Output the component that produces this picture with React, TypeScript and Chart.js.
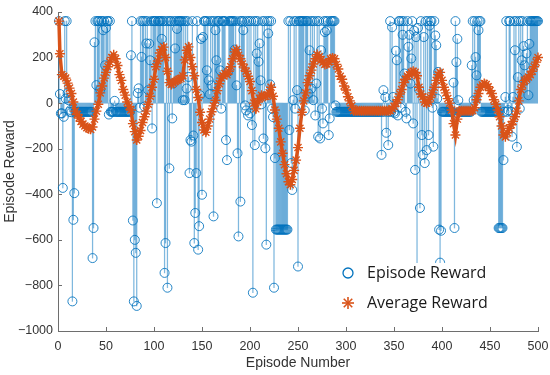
import React, { useEffect, useRef } from 'react';
import { Chart, registerables } from 'chart.js';

Chart.register(...registerables);

// Episode reward, episodes 1..100
const rewards001to100 = [
  360, 40, -45, -45, -372, -60, 360, 20, 360, 44,
  13, -38, -30, -40, -870, -512, -395, -38, -38, -38,
  -38, -38, -38, -38, -38, -38, -38, -38, -38, -38,
  -38, -38, -38, -38, -38, -680, -548, 267, 360, 79,
  360, 360, 360, 60, 360, 360, 320, 360, 166, 330,
  360, 360, -50, 360, -38, -38, -38, -38, 10, -38,
  -38, -38, -38, -38, -38, -38, -38, -38, -38, -38,
  -38, -38, -38, -38, -38, 210, 360, -515, -870, -600,
  -657, -890, 44, 65, -20, 360, 203, 360, 360, -15,
  360, 262, 360, 57, 261, 188, 360, -111, 360, 360,
];
// episodes 101..200
const rewards101to200 = [
  360, 360, -439, 360, 360, 360, 360, 282, 360, 360,
  -745, -614, 360, -810, 360, -286, 360, 360, -67, 86,
  360, 240, 360, 326, 360, 360, 360, 360, 360, 13,
  360, 13, 360, 64, 360, 115, -307, -162, -169, 360,
  -142, -614, -482, -307, 360, -643, -540, 35, 282, -402,
  290, 360, 360, 360, 144, 360, 100, 39, 360, 78,
  360, -497, 360, 320, 188, 360, 360, 360, 144, -24,
  360, 360, 360, 360, -162, -250, 137, 360, 360, 360,
  360, 360, 360, 235, 360, 78, -220, -585, 360, -432,
  360, 360, 320, 360, -10, -32, 360, -54, 360, -45,
];
// episodes 201..300
const rewards201to300 = [
  360, -96, -832, 360, -184, 360, 218, 360, 182, 262,
  100, -5, 360, -155, 360, -198, -621, 360, 306, 360,
  82, 360, -24, -61, -810, -241, -555, -555, -555, -555,
  -555, -555, -555, -555, -555, -555, -555, -555, -555, 360,
  -118, 360, -263, -381, 13, 360, -24, 360, 57, -717,
  360, 360, 360, 360, 360, 360, -32, 360, 360, 360,
  42, 232, 360, 64, 360, 13, 360, -54, 86, 360,
  -147, 360, -155, 232, -24, -89, 360, 312, 360, 319,
  360, -140, -67, 360, 360, 360, 360, 360, -10, -38,
  -38, -38, -38, -38, -38, -38, -38, -38, -38, -38,
];
// episodes 301..400
const rewards301to400 = [
  -38, -38, -38, -38, -38, -38, -38, -38, -38, -38,
  -38, -38, -38, -38, -38, -38, -38, -38, -38, -38,
  -38, -38, -38, -38, -38, -38, -38, -38, -38, -38,
  -38, -38, -38, -38, -38, -38, -227, -38, 57, -38,
  27, -130, -38, -184, -38, 360, -38, 333, 27, -38,
  -45, 230, 188, -54, 360, 360, -20, 360, 300, 360,
  130, -38, -67, 360, 247, 300, 86, 196, 360, -89,
  318, -293, 290, -760, 330, 60, -460, 360, -140, -227,
  290, -263, 360, -206, 360, -140, 340, 360, 360, -20,
  -191, 360, 297, 254, 20, 137, -555, -700, -560, -38,
];
// episodes 401..500
const rewards401to500 = [
  -38, -38, -38, -38, -38, -38, -38, -38, -38, -38,
  -38, 90, -548, 360, 180, 282, 13, -38, -38, -38,
  -38, -38, -38, -38, -38, -38, -38, -38, -38, -38,
  166, 360, 13, 360, 202, 122, 360, 320, 360, 360,
  -38, -38, -38, -38, -38, -38, -38, -38, -38, -38,
  -38, -38, -38, -38, -38, -38, -38, -38, -548, -548,
  -548, -548, -548, -250, -38, 27, 360, -38, -31, 360,
  360, -38, -147, 27, 360, 232, 360, -192, 114, 360,
  -24, 360, 188, 360, 250, 166, 100, 218, 360, 35,
  260, 360, 360, 360, 360, 360, 360, 360, 360, 360,
];

// Average reward, read every 2 episodes (0, 2, 4, ...)
const average000to098 = [
  360, 217, 125, 118, 110, 88, 66, 42, 5, -35,
  -50, -65, -80, -92, -100, -108, -112, -115, -105, -70,
  -35, -5, 45, 75, 110, 135, 160, 180, 200, 212,
  195, 165, 125, 100, 60, 35, 5, -15, -30, -90,
  -125, -162, -145, -120, -85, -60, -35, -5, 30, 70,
];
const average100to198 = [
  105, 160, 185, 220, 235, 246, 200, 140, 90, 82,
  88, 95, 100, 105, 108, 120, 190, 232, 247, 200,
  160, 120, 60, 25, -40, -85, -118, -128, -100, -70,
  -38, -12, 13, 55, 85, 110, 120, 130, 125, 140,
  160, 195, 225, 235, 210, 195, 172, 155, 140, 118,
];
const average200to298 = [
  95, 55, 0, -25, 5, 20, 35, 30, 30, 35,
  45, 70, 30, -30, -70, -110, -170, -220, -270, -310,
  -345, -358, -335, -295, -250, -195, -110, -40, 10, 45,
  90, 120, 145, 172, 195, 213, 205, 190, 178, 170,
  172, 180, 195, 198, 195, 170, 150, 118, 105, 75,
];
const average300to398 = [
  58, 28, 10, -12, -33,
  -33, -33, -33, -33, -33, -33, -33, -33, -33, -33,
  -33, -33, -33, -33, -33, -33, -33, -33, -33,
  -25, -15, 0, 15, 40, 60, 90, 105, 118, 125,
  135, 140, 135, 120, 70, 40, 28, 5, 0, 5,
  25, 45, 70, 100, 125, 135,
];
const average400to500 = [
  100, 70, 45, 20, 0, -30, -90, -140, -70, -35,
  -33, -33, -33, -33, -33, -33, -33,
  -20, 15, 42, 70, 80, 86, 82, 72, 55, 42,
  15, -5, -30, -60, -100, -140, -148, -130, -110, -95,
  -80, -60, -35, 10, 60, 80, 100, 105, 115, 125,
  140, 160, 180, 200,
];

const xTickValues = [0, 50, 100, 150, 200, 250, 300, 350, 400, 450, 500];
const yTickValues = [-1000, -800, -600, -400, -200, 0, 200, 400];
const legendLabels = ['Episode Reward', 'Average Reward'];
const xTitle = 'Episode Number';
const yTitle = 'Episode Reward';

const episodeRewards = [
  ...rewards001to100,
  ...rewards101to200,
  ...rewards201to300,
  ...rewards301to400,
  ...rewards401to500,
];
const averageReward = [
  ...average000to098,
  ...average100to198,
  ...average200to298,
  ...average300to398,
  ...average400to500,
];

const BLUE = '#0072BD';
const ORANGE = '#D95319';
const AXIS = '#6e6e6e';
const TEXT = '#333333';

const fmt = (v: number) => (v < 0 ? '\u2212' + Math.abs(v) : String(v));

const inwardTicks = {
  id: 'inwardTicks',
  afterDraw(chart: any) {
    const { ctx, chartArea, scales } = chart;
    ctx.save();
    ctx.strokeStyle = AXIS;
    ctx.lineWidth = 1;
    xTickValues.forEach((v) => {
      const px = Math.round(scales.x.getPixelForValue(v)) + 0.5;
      ctx.beginPath();
      ctx.moveTo(px, chartArea.bottom);
      ctx.lineTo(px, chartArea.bottom - 4);
      ctx.stroke();
    });
    yTickValues.forEach((v) => {
      const py = Math.round(scales.y.getPixelForValue(v)) + 0.5;
      ctx.beginPath();
      ctx.moveTo(chartArea.left, py);
      ctx.lineTo(chartArea.left + 4, py);
      ctx.stroke();
    });
    ctx.restore();
  },
};

const matlabLegend = {
  id: 'matlabLegend',
  afterDatasetsDraw(chart: any) {
    const { ctx, chartArea } = chart;
    const left = chartArea.left + 276;
    const top = chartArea.top + 251;
    ctx.save();
    ctx.fillStyle = '#ffffff';
    ctx.fillRect(left, top, 200, 58);
    const mx = left + 14;
    const y1 = top + 10;
    const y2 = top + 40;
    ctx.strokeStyle = BLUE;
    ctx.lineWidth = 1.3;
    ctx.beginPath();
    ctx.arc(mx, y1, 5, 0, Math.PI * 2);
    ctx.stroke();
    ctx.strokeStyle = ORANGE;
    ctx.lineWidth = 1.6;
    const r = 6;
    for (let k = 0; k < 4; k++) {
      const a = (k * Math.PI) / 4;
      ctx.beginPath();
      ctx.moveTo(mx - r * Math.cos(a), y2 - r * Math.sin(a));
      ctx.lineTo(mx + r * Math.cos(a), y2 + r * Math.sin(a));
      ctx.stroke();
    }
    ctx.fillStyle = '#1a1a1a';
    ctx.font = '16px "Open Sans"';
    ctx.textBaseline = 'middle';
    ctx.textAlign = 'left';
    ctx.fillText(legendLabels[0], left + 33, y1);
    ctx.fillText(legendLabels[1], left + 33, y2);
    ctx.restore();
  },
};

export default function App() {
  const ref = useRef<HTMLCanvasElement | null>(null);

  useEffect(() => {
    if (!ref.current) return;
    const rewardPoints = episodeRewards.map((v, i) => ({ x: i + 1, y: v }));
    const avgPoints = averageReward.map((v, i) => ({ x: i === 0 ? 1 : i * 2, y: v }));

    const chart = new Chart(ref.current, {
      type: 'bar',
      data: {
        datasets: [
          {
            type: 'scatter',
            label: legendLabels[1],
            data: avgPoints,
            showLine: true,
            borderWidth: 3.5,
            pointStyle: 'star',
            pointRadius: 5,
            pointBorderWidth: 1.4,
            borderColor: ORANGE,
            backgroundColor: ORANGE,
            clip: false,
            order: 0,
          } as any,
          {
            type: 'scatter',
            label: legendLabels[0],
            data: rewardPoints,
            showLine: false,
            pointStyle: 'circle',
            pointRadius: 4.5,
            pointBorderWidth: 1,
            borderColor: 'rgba(0,114,189,0.85)',
            backgroundColor: 'rgba(0,0,0,0)',
            clip: false,
            order: 1,
          } as any,
          {
            type: 'bar',
            label: 'stems',
            data: rewardPoints,
            barThickness: 0.6,
            backgroundColor: 'rgba(0,114,189,0.5)',
            borderWidth: 0,
            order: 2,
          } as any,
        ],
      },
      options: {
        responsive: false,
        animation: false,
        events: [],
        layout: { padding: { top: 12, right: 12, left: 0, bottom: 0 } },
        plugins: {
          legend: { display: false },
          tooltip: { enabled: false },
        },
        scales: {
          x: {
            type: 'linear',
            min: 0,
            max: 500,
            offset: false,
            grid: { display: false, drawTicks: false, offset: false },
            border: { display: true, color: AXIS, width: 1 },
            ticks: {
              stepSize: 50,
              padding: 8,
              color: TEXT,
              font: { family: '"Liberation Sans", Arial, sans-serif', size: 12.5 },
              callback: (v: any) => fmt(Number(v)),
              maxRotation: 0,
            },
            title: {
              display: true,
              text: xTitle,
              color: TEXT,
              font: { family: '"Liberation Sans", Arial, sans-serif', size: 14 },
              padding: { top: 0, bottom: 3 },
            },
            afterFit: (s: any) => {
              s.height = 44;
              s.paddingLeft = 0;
              s.paddingRight = 0;
            },
          },
          y: {
            type: 'linear',
            min: -1000,
            max: 400,
            grid: { display: false, drawTicks: false },
            border: { display: true, color: AXIS, width: 1 },
            ticks: {
              stepSize: 200,
              padding: 5,
              color: TEXT,
              font: { family: '"Liberation Sans", Arial, sans-serif', size: 12.5 },
              callback: (v: any) => fmt(Number(v)),
            },
            title: {
              display: true,
              text: yTitle,
              color: TEXT,
              font: { family: '"Liberation Sans", Arial, sans-serif', size: 14 },
              padding: { top: 2, bottom: 0 },
            },
            afterFit: (s: any) => {
              s.width = 58;
              s.paddingTop = 0;
              s.paddingBottom = 0;
            },
          },
        },
      } as any,
      plugins: [inwardTicks, matlabLegend],
    });
    return () => chart.destroy();
  }, []);

  return (
    <div
      style={{
        position: 'fixed',
        left: 0,
        top: 0,
        width: 550,
        height: 375,
        background: '#ffffff',
      }}
    >
      <canvas ref={ref} width={550} height={375} />
    </div>
  );
}
